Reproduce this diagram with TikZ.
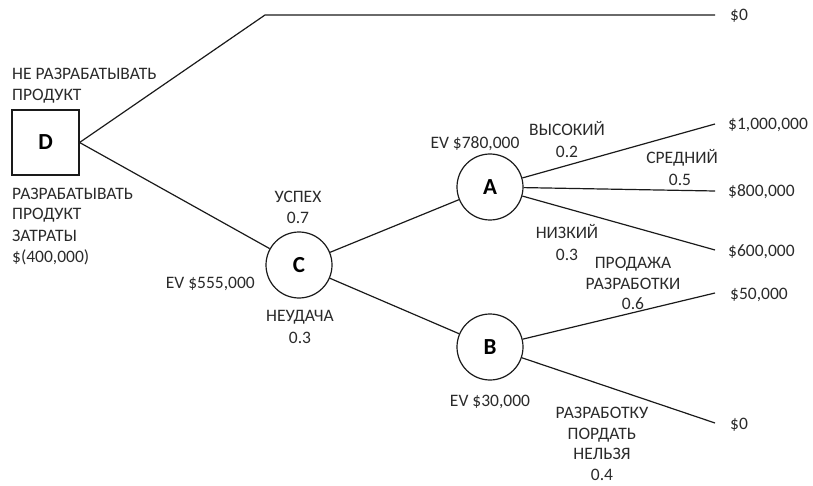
\documentclass[tikz,border=0pt]{standalone}
\usepackage{fontspec}
\setmainfont{Carlito}
\definecolor{ink}{HTML}{1A1A1A}
\definecolor{txt}{HTML}{2A2A2A}
\begin{document}
\begin{tikzpicture}[x=1pt,y=-1pt,
  branch/.style={draw=ink,line width=1.2pt},
  lbl/.style={inner sep=0pt,text=txt,font=\fontsize{17.5}{20.5}\selectfont},
  chance/.style={circle,draw=ink,line width=1.2pt,minimum size=66pt,inner sep=0pt,
    font=\fontsize{23}{26}\selectfont\bfseries},
  decision/.style={rectangle,draw=ink,line width=1.2pt,minimum width=67pt,minimum height=65pt,
    inner sep=0pt,font=\fontsize{23}{26}\selectfont\bfseries}]
\useasboundingbox (0,0) rectangle (813,486);

% decision and chance nodes
\node[decision] (D) at (45.5,142.5) {D};
\node[chance] (C) at (299,265) {C};
\node[chance] (A) at (490,187) {A};
\node[chance] (B) at (490,347) {B};

% free ends of the branches
\coordinate (k) at (265,15);
\coordinate (e0) at (715,15);
\coordinate (e1) at (715,124);
\coordinate (e2) at (715,191);
\coordinate (e3) at (715,250);
\coordinate (e4) at (715,293);
\coordinate (e5) at (715,423);

% branches
\draw[branch] (D.east) -- (k) -- (e0);
\draw[branch] (D.east) -- (C);
\draw[branch] (C) -- (A);
\draw[branch] (C) -- (B);
\draw[branch] (A) -- (e1);
\draw[branch] (A) -- (e2);
\draw[branch] (A) -- (e3);
\draw[branch] (B) -- (e4);
\draw[branch] (B) -- (e5);

% payoffs
\node[lbl,anchor=base west] (v0) at (730,21) {\$0};
\node[lbl,anchor=base west] (v1) at (728,130) {\$1,000,000};
\node[lbl,anchor=base west] (v2) at (728,197) {\$800,000};
\node[lbl,anchor=base west] (v3) at (728,256) {\$600,000};
\node[lbl,anchor=base west] (v4) at (730,299) {\$50,000};
\node[lbl,anchor=base west] (v5) at (730,429) {\$0};

% decision labels
\node[lbl,anchor=base west] (n1) at (12,80) {НЕ РАЗРАБАТЫВАТЬ};
\node[lbl,anchor=base west] (n2) at (12,101) {ПРОДУКТ};
\node[lbl,anchor=base west] (d1) at (12,200) {РАЗРАБАТЫВАТЬ};
\node[lbl,anchor=base west] (d2) at (12,220) {ПРОДУКТ};
\node[lbl,anchor=base west] (d3) at (12,242) {ЗАТРАТЫ};
\node[lbl,anchor=base west] (d4) at (12,262) {\$(400,000)};

% node C
\node[lbl,anchor=base] (c1) at (298,203) {УСПЕХ};
\node[lbl,anchor=base] (c2) at (298,224) {0.7};
\node[lbl,anchor=base east] (cev) at (255,288) {EV \$555,000};
\node[lbl,anchor=base] (c3) at (300,321) {НЕУДАЧА};
\node[lbl,anchor=base] (c4) at (300,343) {0.3};

% node A
\node[lbl,anchor=base] (aev) at (475,149) {EV \$780,000};
\node[lbl,anchor=base] (a1) at (567,136) {ВЫСОКИЙ};
\node[lbl,anchor=base] (a2) at (567,158) {0.2};
\node[lbl,anchor=base] (a3) at (682,164) {СРЕДНИЙ};
\node[lbl,anchor=base] (a4) at (680,186) {0.5};
\node[lbl,anchor=base] (a5) at (567,239) {НИЗКИЙ};
\node[lbl,anchor=base] (a6) at (567,261) {0.3};

% node B
\node[lbl,anchor=base] (b1) at (633,269) {ПРОДАЖА};
\node[lbl,anchor=base] (b2) at (633,289) {РАЗРАБОТКИ};
\node[lbl,anchor=base] (b3) at (633,309) {0.6};
\node[lbl,anchor=base] (bev) at (490,406) {EV \$30,000};
\node[lbl,anchor=base] (b4) at (602,418) {РАЗРАБОТКУ};
\node[lbl,anchor=base] (b5) at (602,439) {ПОРДАТЬ};
\node[lbl,anchor=base] (b6) at (602,459) {НЕЛЬЗЯ};
\node[lbl,anchor=base] (b7) at (602,480) {0.4};
\end{tikzpicture}
\end{document}
